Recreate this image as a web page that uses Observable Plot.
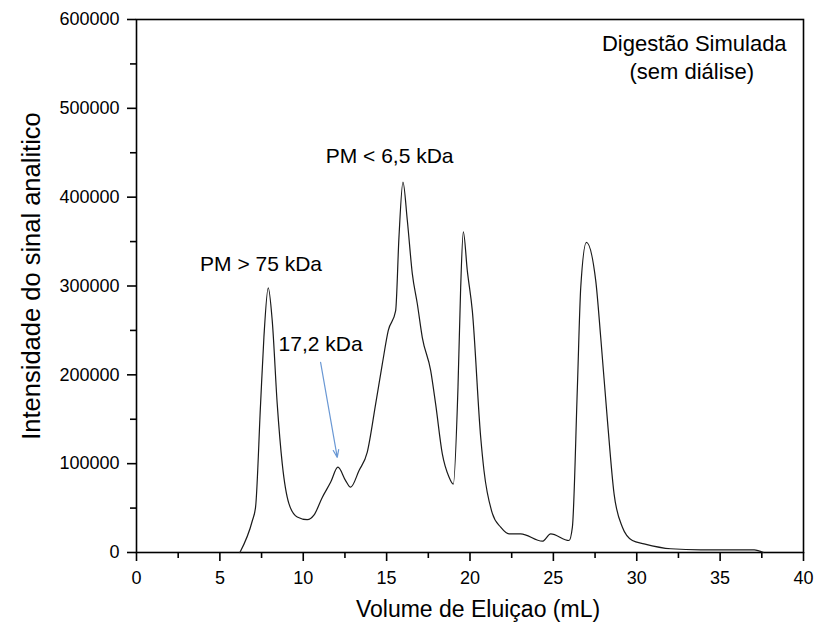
<!DOCTYPE html>
<html>
<head>
<meta charset="utf-8">
<script src="https://cdn.jsdelivr.net/npm/d3@7"></script>
<script src="https://cdn.jsdelivr.net/npm/@observablehq/plot@0.6"></script>
<style>
  html, body { margin: 0; padding: 0; background: #fff; }
  #chart svg { display: block; font-family: "Liberation Sans", Arial, sans-serif; }
</style>
</head>
<body>
<div id="chart"></div>
<script>
// Elution volume (mL) and signal intensity
const volume = [6.2, 6.95, 7.14, 7.44, 7.64, 7.9, 8.14, 8.44, 8.74, 9.14, 9.64, 10.24, 10.64, 11.14, 11.64, 12.08, 12.54, 12.84, 13.34, 13.84, 14.34, 14.74, 15.1, 15.54, 15.74, 15.98, 16.24, 16.54, 16.84, 17.14, 17.64, 17.94, 18.34, 18.74, 19.0, 19.28, 19.44, 19.6, 19.84, 20.14, 20.64, 20.84, 21.34, 21.84, 22.34, 23.04, 24.34, 24.84, 25.94, 26.14, 26.44, 26.64, 26.98, 27.54, 27.84, 28.24, 28.64, 29.14, 29.74, 30.44, 32.04, 33.84, 37.04, 37.6];
const intensity = [0, 36000, 51000, 167000, 242000, 298000, 261000, 167000, 100000, 55000, 40000, 37000, 42000, 62000, 79000, 96000, 81000, 73500, 92000, 113000, 167000, 212000, 250000, 272000, 355000, 417000, 374000, 314000, 280000, 242000, 205000, 167000, 111000, 85000, 77000, 186000, 298000, 361000, 317000, 272000, 130000, 92000, 44000, 28500, 21000, 21000, 12700, 21000, 13500, 28500, 186000, 298000, 349000, 306000, 242000, 149000, 66000, 28500, 13500, 9800, 4200, 3000, 3000, 0];

const xTicks = [0, 5, 10, 15, 20, 25, 30, 35, 40];
const xMinorTicks = [2.5, 7.5, 12.5, 17.5, 22.5, 27.5, 32.5, 37.5];
const yTicks = [0, 100000, 200000, 300000, 400000, 500000, 600000];
const yMinorTicks = [50000, 150000, 250000, 350000, 450000, 550000];

const peakLabels = ["PM > 75 kDa", "PM < 6,5 kDa", "17,2 kDa"];
const peakLabelX = [7.47, 15.18, 11.04];
const peakLabelY = [324000, 446000, 234000];

const titleLines = ["Digestão Simulada", "(sem diálise)"];
const titleX = [33.45, 33.3];
const titleY = [573000, 541500];

const arrowFrom = [11.04, 214000];
const arrowTo = [12.04, 107000];

const series = volume.map((v, i) => ({v, s: intensity[i]}));
const labels = peakLabels.map((t, i) => ({t, x: peakLabelX[i], y: peakLabelY[i]}));
const titles = titleLines.map((t, i) => ({t, x: titleX[i], y: titleY[i]}));

const chart = Plot.plot({
  width: 819,
  height: 632,
  marginLeft: 136,
  marginRight: 16,
  marginTop: 19,
  marginBottom: 80,
  style: {fontFamily: "'Liberation Sans', Arial, sans-serif", color: "#000", background: "#fff"},
  x: {domain: [0, 40]},
  y: {domain: [0, 600000]},
  marks: [
    Plot.axisX({ticks: xTicks, tickSize: 9, tickPadding: 10, fontSize: 18, label: null, strokeWidth: 1.6}),
    Plot.axisX({ticks: xMinorTicks, tickSize: 6, text: null, label: null, strokeWidth: 1.6}),
    Plot.axisY({ticks: yTicks, tickSize: 9, tickPadding: 8, fontSize: 18, tickFormat: d3.format("d"), label: null, strokeWidth: 1.6}),
    Plot.axisY({ticks: yMinorTicks, tickSize: 6, text: null, label: null, strokeWidth: 1.6}),
    Plot.frame({stroke: "#000", strokeWidth: 1.6}),
    Plot.line(series, {x: "v", y: "s", stroke: "#1a1a1a", strokeWidth: 1.2, curve: "monotone-x"}),
    Plot.text(labels, {x: "x", y: "y", text: "t", fontSize: 21, fill: "#000", lineAnchor: "middle"}),
    Plot.text(titles, {x: "x", y: "y", text: "t", fontSize: 22, fill: "#000", lineAnchor: "middle"}),
    Plot.arrow([{x1: arrowFrom[0], y1: arrowFrom[1], x2: arrowTo[0], y2: arrowTo[1]}], {x1: "x1", y1: "y1", x2: "x2", y2: "y2", stroke: "#6a98d4", strokeWidth: 1.2, headLength: 10, headAngle: 40}),
    Plot.text(["Volume de Eluiçao (mL)"], {frameAnchor: "bottom", dx: 8, dy: 57, fontSize: 23, fill: "#000", lineAnchor: "middle"}),
    Plot.text(["Intensidade do sinal analitico"], {frameAnchor: "left", textAnchor: "middle", dx: -105, dy: -10, rotate: -90, fontSize: 25.5, fill: "#000", lineAnchor: "middle"})
  ]
});
document.getElementById("chart").appendChild(chart);
</script>
</body>
</html>
